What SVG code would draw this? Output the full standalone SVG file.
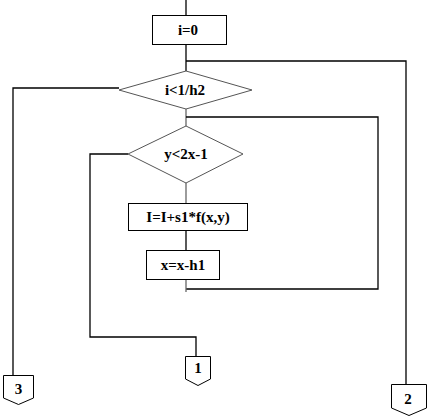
<svg xmlns="http://www.w3.org/2000/svg" width="429" height="418" viewBox="0 0 429 418">
<style>
.bg{fill:#fff}
.box{fill:#fff;stroke:#000;stroke-width:1}
.dia{fill:#fff;stroke:#555;stroke-width:1}
.ln{fill:none;stroke:#000;stroke-width:1.3}
.lg{fill:none;stroke:#666;stroke-width:1.3}
.t{font-family:"Liberation Serif","Times New Roman",serif;font-weight:bold;font-size:15px;text-anchor:middle;fill:#000}
</style>
<rect class="bg" x="0" y="0" width="429" height="418"/>
<g id="connectors">
<path class="ln" d="M186,0 V15"/>
<path class="ln" d="M186,44 V71"/>
<path class="ln" d="M186,61 H406 V384"/>
<path class="ln" d="M119,88 H13 V375"/>
<path class="lg" d="M186,109 V126"/>
<path class="ln" d="M186,117 H378 V289 H186"/>
<path class="lg" d="M186,183 V203"/>
<path class="ln" d="M186,230 V250"/>
<path class="lg" d="M186,279 V292"/>
<path class="ln" d="M128,154 H90 V337 H196 V356"/>
</g>
<g id="n_i0">
<rect class="box" x="152.5" y="15.5" width="74" height="29"/>
<text class="t" x="188" y="35">i=0</text>
</g>
<g id="n_cond1">
<polygon class="dia" points="186,71 252,90 186,109 119,90"/>
<text class="t" x="185" y="95">i&lt;1/h2</text>
</g>
<g id="n_cond2">
<polygon class="dia" points="186,126 243,154 186,183 128,154"/>
<text class="t" x="186" y="159">y&lt;2x-1</text>
</g>
<g id="n_sum">
<rect class="box" x="128.5" y="203.5" width="119" height="27"/>
<text class="t" x="188" y="222">I=I+s1*f(x,y)</text>
</g>
<g id="n_dec">
<rect class="box" x="146.5" y="250.5" width="73" height="29"/>
<text class="t" x="183" y="270">x=x-h1</text>
</g>
<g id="c3">
<polygon class="box" points="3.5,375.5 33.5,375.5 33.5,398 18.5,404.5 3.5,398"/>
<text class="t" x="18.5" y="394">3</text>
</g>
<g id="c1">
<polygon class="box" points="185.5,356.5 210.5,356.5 210.5,379 198,385.5 185.5,379"/>
<text class="t" x="198" y="373">1</text>
</g>
<g id="c2">
<polygon class="box" points="391.5,384.5 426.5,384.5 426.5,408 409,415.5 391.5,408"/>
<text class="t" x="408" y="404">2</text>
</g>
</svg>
